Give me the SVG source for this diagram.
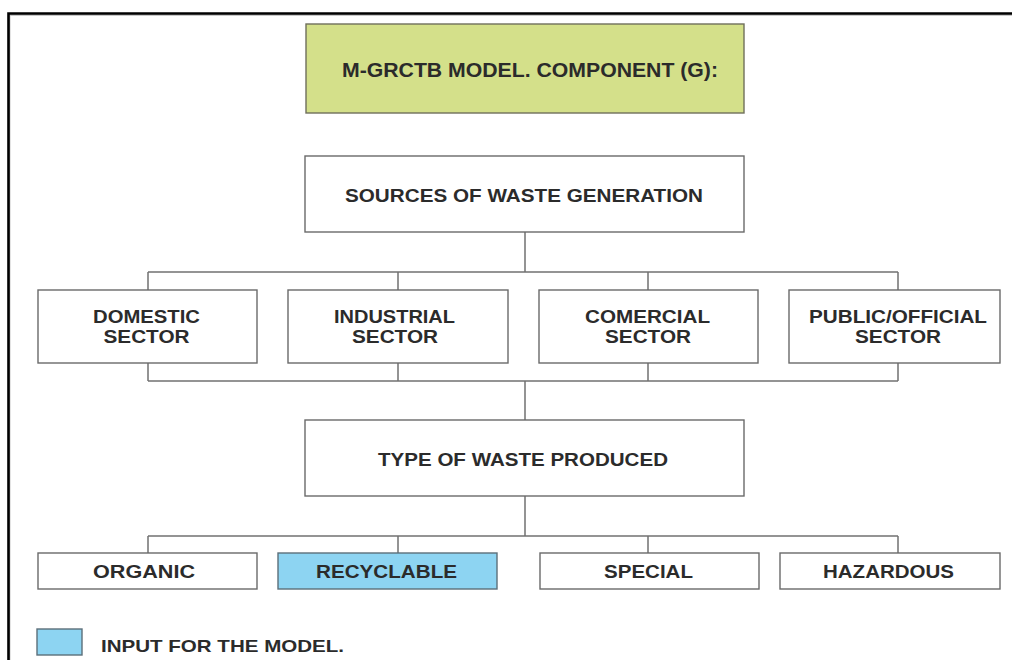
<svg xmlns="http://www.w3.org/2000/svg" width="1012" height="660" viewBox="0 0 1012 660">
<style>
  .box{fill:#ffffff;stroke:#6a6a6a;stroke-width:1.4}
  .title{fill:#d4e08a;stroke:#6f6f5c;stroke-width:1.4}
  .input{fill:#8dd4f2;stroke:#5c6f7a;stroke-width:1.4}
  .lbl{font-family:"Liberation Sans",Arial,sans-serif;font-weight:bold;fill:#2b2b2b;text-anchor:middle}
  .conn line{stroke:#707070;stroke-width:1.5}
</style>
<rect width="1012" height="660" fill="#ffffff"/>
<g id="frame">
  <polyline points="9.5,662 9.5,15 1014,15" fill="none" stroke="#c8c8c8" stroke-width="2"/>
  <polyline points="8.5,662 8.5,13.5 1014,13.5" fill="none" stroke="#000000" stroke-width="2.6"/>
</g>
<g class="conn" id="connectors">
  <line x1="525" y1="232" x2="525" y2="272"/>
  <line x1="148" y1="272" x2="898" y2="272"/>
  <line x1="148" y1="272" x2="148" y2="290"/>
  <line x1="398" y1="272" x2="398" y2="290"/>
  <line x1="648" y1="272" x2="648" y2="290"/>
  <line x1="898" y1="272" x2="898" y2="290"/>
  <line x1="148" y1="363" x2="148" y2="381"/>
  <line x1="398" y1="363" x2="398" y2="381"/>
  <line x1="648" y1="363" x2="648" y2="381"/>
  <line x1="898" y1="363" x2="898" y2="381"/>
  <line x1="148" y1="381" x2="898" y2="381"/>
  <line x1="525" y1="381" x2="525" y2="420"/>
  <line x1="525" y1="496" x2="525" y2="536"/>
  <line x1="148" y1="536" x2="898" y2="536"/>
  <line x1="148" y1="536" x2="148" y2="553"/>
  <line x1="398" y1="536" x2="398" y2="553"/>
  <line x1="648" y1="536" x2="648" y2="553"/>
  <line x1="898" y1="536" x2="898" y2="553"/>
</g>
<g id="title">
  <rect class="title" x="306" y="24" width="438" height="89"/>
  <text class="lbl" x="530" y="77" font-size="21" textLength="376" lengthAdjust="spacingAndGlyphs">M-GRCTB MODEL. COMPONENT (G):</text>
</g>
<g id="sources">
  <rect class="box" x="305" y="156" width="439" height="76"/>
  <text class="lbl" x="524" y="201.5" font-size="18.5" textLength="358" lengthAdjust="spacingAndGlyphs">SOURCES OF WASTE GENERATION</text>
</g>
<g id="domestic">
  <rect class="box" x="38" y="290" width="219" height="73"/>
  <text class="lbl" x="146.5" y="322.5" font-size="17.5" textLength="107" lengthAdjust="spacingAndGlyphs">DOMESTIC</text>
  <text class="lbl" x="146.5" y="343" font-size="17.5" textLength="86" lengthAdjust="spacingAndGlyphs">SECTOR</text>
</g>
<g id="industrial">
  <rect class="box" x="288" y="290" width="220" height="73"/>
  <text class="lbl" x="394.5" y="322.5" font-size="17.5" textLength="121" lengthAdjust="spacingAndGlyphs">INDUSTRIAL</text>
  <text class="lbl" x="395" y="343" font-size="17.5" textLength="86" lengthAdjust="spacingAndGlyphs">SECTOR</text>
</g>
<g id="comercial">
  <rect class="box" x="539" y="290" width="219" height="73"/>
  <text class="lbl" x="647.5" y="322.5" font-size="17.5" textLength="125" lengthAdjust="spacingAndGlyphs">COMERCIAL</text>
  <text class="lbl" x="648" y="343" font-size="17.5" textLength="86" lengthAdjust="spacingAndGlyphs">SECTOR</text>
</g>
<g id="public">
  <rect class="box" x="789" y="290" width="211" height="73"/>
  <text class="lbl" x="898" y="322.5" font-size="17.5" textLength="178" lengthAdjust="spacingAndGlyphs">PUBLIC/OFFICIAL</text>
  <text class="lbl" x="898" y="343" font-size="17.5" textLength="86" lengthAdjust="spacingAndGlyphs">SECTOR</text>
</g>
<g id="type">
  <rect class="box" x="305" y="420" width="439" height="76"/>
  <text class="lbl" x="523" y="466" font-size="18.5" textLength="290" lengthAdjust="spacingAndGlyphs">TYPE OF WASTE PRODUCED</text>
</g>
<g id="organic">
  <rect class="box" x="38" y="553" width="219" height="36"/>
  <text class="lbl" x="144" y="577.5" font-size="17.5" textLength="102" lengthAdjust="spacingAndGlyphs">ORGANIC</text>
</g>
<g id="recyclable">
  <rect class="input" x="278" y="553" width="219" height="36"/>
  <text class="lbl" x="386.5" y="577.5" font-size="17.5" textLength="141" lengthAdjust="spacingAndGlyphs">RECYCLABLE</text>
</g>
<g id="special">
  <rect class="box" x="540" y="553" width="219" height="36"/>
  <text class="lbl" x="648.5" y="577.5" font-size="17.5" textLength="89" lengthAdjust="spacingAndGlyphs">SPECIAL</text>
</g>
<g id="hazardous">
  <rect class="box" x="780" y="553" width="220" height="36"/>
  <text class="lbl" x="888.5" y="577.5" font-size="17.5" textLength="131" lengthAdjust="spacingAndGlyphs">HAZARDOUS</text>
</g>
<g id="legend">
  <rect class="input" x="37" y="629" width="45" height="26"/>
  <text class="lbl" x="101" y="652" font-size="17" style="text-anchor:start" textLength="243" lengthAdjust="spacingAndGlyphs">INPUT FOR THE MODEL.</text>
</g>
</svg>
